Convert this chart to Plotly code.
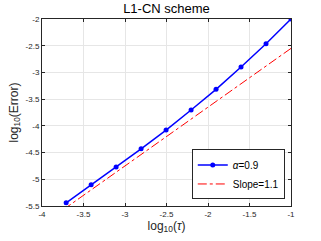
import plotly.graph_objects as go

log_tau = [-1.0, -1.301, -1.602, -1.903, -2.204, -2.505, -2.806, -3.107, -3.408, -3.709]
log_err = [-2.0, -2.462, -2.899, -3.317, -3.704, -4.079, -4.429, -4.770, -5.103, -5.440]
slope_ref = [-2.55, -2.881, -3.212, -3.543, -3.874, -4.205, -4.537, -4.868, -5.199, -5.53]
x_ticks = [-4, -3.5, -3, -2.5, -2, -1.5, -1]
y_ticks = [-2, -2.5, -3, -3.5, -4, -4.5, -5, -5.5]

fig = go.Figure()
fig.add_trace(go.Scatter(x=log_tau, y=log_err, mode="lines+markers",
                         name="<i>α</i>=0.9",
                         line=dict(color="#0000ff", width=1.5),
                         marker=dict(color="#0000ff", size=5, symbol="circle")))
fig.add_trace(go.Scatter(x=log_tau, y=slope_ref, mode="lines",
                         name="Slope=1.1",
                         line=dict(color="#ff0000", width=1, dash="dashdot")))

axis_common = dict(showgrid=True, gridcolor="#e6e6e6", gridwidth=1,
                   showline=True, linecolor="#262626", linewidth=1, mirror="ticks",
                   ticks="inside", ticklen=3, tickcolor="#262626",
                   tickfont=dict(size=8, color="#262626", family="Liberation Sans, Arial"),
                   zeroline=False, automargin=False)

fig.update_layout(
    width=321, height=241,
    margin=dict(l=42, r=30, t=19, b=35, autoexpand=False),
    paper_bgcolor="white", plot_bgcolor="white",
    font=dict(family="Liberation Sans, Arial", color="#262626"),
    title=dict(text="L1-CN scheme", x=0.5, xanchor="center", xref="paper", y=0.985, yanchor="top",
               font=dict(size=13, color="#000000")),
    xaxis=dict(range=[-4, -1], tickvals=x_ticks, ticktext=[str(v) for v in x_ticks],
               title=dict(text="log<sub>10</sub>(<i>τ</i>)", font=dict(size=12, color="#262626"), standoff=3),
               **axis_common),
    yaxis=dict(range=[-5.5, -2], tickvals=y_ticks, ticktext=[str(v) for v in y_ticks],
               title=dict(text="log<sub>10</sub>(Error)", font=dict(size=12, color="#262626"), standoff=4),
               **axis_common),
    legend=dict(x=0.975, y=0.035, xanchor="right", yanchor="bottom",
                bgcolor="white", bordercolor="#262626", borderwidth=1,
                font=dict(size=10, color="#000000"), tracegroupgap=0,
                itemwidth=30),
    showlegend=True,
)

fig.write_html("out.html", config={"displayModeBar": False},
               post_script="document.body.style.margin='0';document.body.style.padding='0';")
